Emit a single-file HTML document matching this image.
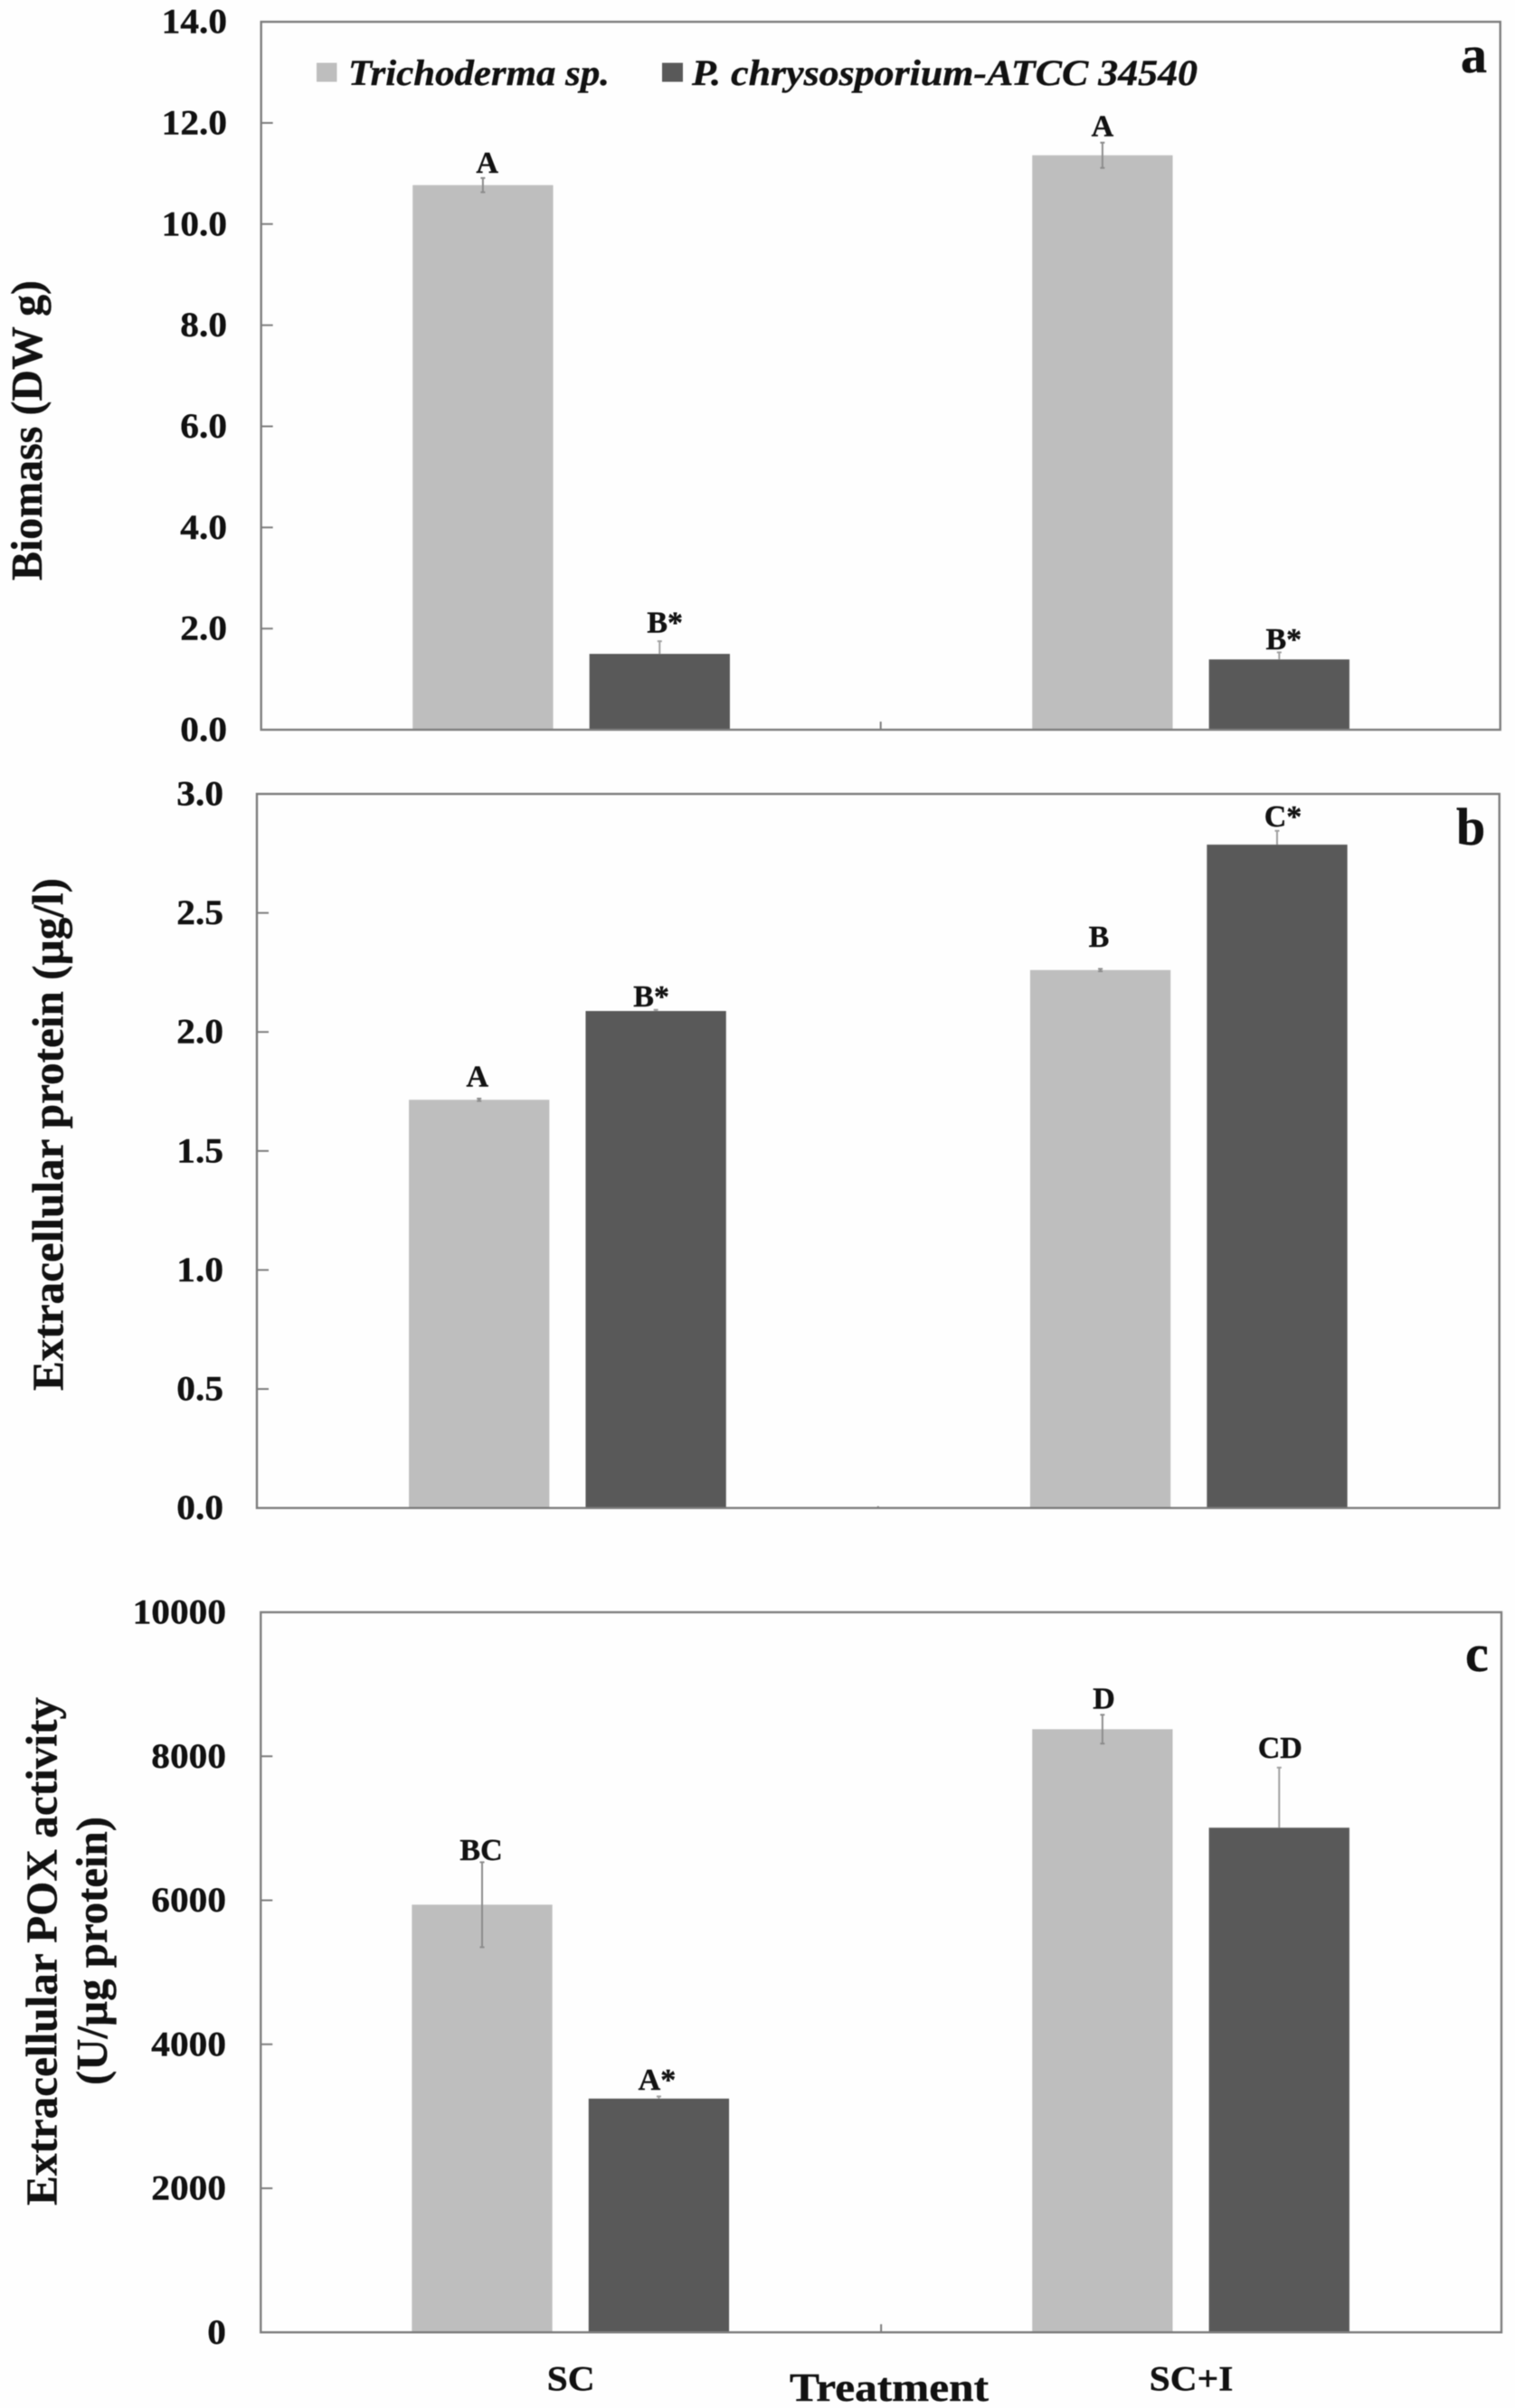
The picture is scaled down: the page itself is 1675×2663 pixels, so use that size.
<!DOCTYPE html>
<html lang="en">
<head>
<meta charset="utf-8">
<title>Biomass, extracellular protein and POX activity</title>
<style>
html,body{margin:0;padding:0;background:#fefefe;}
#figure{display:block;width:1675px;height:2663px;filter:blur(0.6px);}
text{font-family:"Liberation Serif",serif;font-weight:bold;fill:#111;stroke:#111;stroke-width:0.4px;}
</style>
</head>
<body>
<svg id="figure" xmlns="http://www.w3.org/2000/svg" width="1675" height="2663" viewBox="0 0 1675 2663">
  <rect x="0" y="0" width="1675" height="2663" fill="#fefefe"/>
  <g id="plots"></g>

  <g>
    <rect x="350" y="69.5" width="22.5" height="21" fill="#bebebe"/>
    <text x="385" y="94" font-size="40" font-style="italic" textLength="289" lengthAdjust="spacingAndGlyphs">Trichoderma sp.</text>
    <rect x="732" y="69.5" width="23" height="21" fill="#595959"/>
    <text x="765" y="94" font-size="40" font-style="italic" textLength="559" lengthAdjust="spacingAndGlyphs">P. chrysosporium-ATCC 34540</text>
  </g>

  <text transform="translate(46,642) rotate(-90)" font-size="49" textLength="332" lengthAdjust="spacingAndGlyphs">Biomass (DW g)</text>
  <text transform="translate(69.5,1538) rotate(-90)" font-size="49" textLength="567" lengthAdjust="spacingAndGlyphs">Extracellular protein (µg/l)</text>
  <text transform="translate(62.5,2439) rotate(-90)" font-size="49" textLength="562" lengthAdjust="spacingAndGlyphs">Extracellular POX activity</text>
  <text transform="translate(118,2306) rotate(-90)" font-size="49" textLength="297" lengthAdjust="spacingAndGlyphs">(U/µg protein)</text>

  <text x="1615" y="80" font-size="58">a</text>
  <text x="1610" y="934" font-size="58">b</text>
  <text x="1620" y="1848" font-size="58">c</text>

  <text x="873" y="2655" font-size="44" textLength="220" lengthAdjust="spacingAndGlyphs">Treatment</text>
</svg>

<script>
// Shared categories
const categories = ['SC', 'SC+I'];

// Panel a: biomass
const biomassTicks = ['0.0', '2.0', '4.0', '6.0', '8.0', '10.0', '12.0', '14.0'];
const biomassTrichoderma = [10.77, 11.36];
const biomassChrysosporium = [1.50, 1.39];
const biomassTrichodermaErr = [0.14, 0.25];
const biomassChrysosporiumErr = [0.25, 0.14];
const biomassTrichodermaSig = ['A', 'A'];
const biomassChrysosporiumSig = ['B*', 'B*'];

// Panel b: extracellular protein
const proteinTicks = ['0.0', '0.5', '1.0', '1.5', '2.0', '2.5', '3.0'];
const proteinTrichoderma = [1.715, 2.26];
const proteinChrysosporium = [2.088, 2.787];
const proteinTrichodermaErr = [0.005, 0.005];
const proteinChrysosporiumErr = [0.005, 0.058];
const proteinTrichodermaSig = ['A', 'B'];
const proteinChrysosporiumSig = ['B*', 'C*'];

// Panel c: extracellular POX activity
const poxTicks = ['0', '2000', '4000', '6000', '8000', '10000'];
const poxTrichoderma = [5939, 8376];
const poxChrysosporium = [3246, 7008];
const poxTrichodermaErr = [590, 200];
const poxChrysosporiumErr = [30, 835];
const poxTrichodermaSig = ['BC', 'D'];
const poxChrysosporiumSig = ['A*', 'CD'];

const SVG_NS = 'http://www.w3.org/2000/svg';
const plots = document.getElementById('plots');
const LIGHT = '#bebebe';
const DARK = '#595959';
const AXIS = '#7d7d7d';
const ERR = '#8c8c8c';
const ERR_ON_WHITE = '#a0a0a0';

function make(tag, attrs, parent) {
  const el = document.createElementNS(SVG_NS, tag);
  for (const k in attrs) el.setAttribute(k, attrs[k]);
  parent.appendChild(el);
  return el;
}

function drawPanel(p) {
  const g = make('g', {}, plots);
  
  

  const yMax = parseFloat(p.ticks[p.ticks.length - 1]);
  const y = function (v) { return p.bottom - (v / yMax) * (p.bottom - p.top); };
  const band = (p.right - p.left) / categories.length;
  const xCenter = function (i) { return p.left + band * (i + 0.5) + p.shift; };
  const barW = 155.3;
  const barOffset = 97.7;

  const series = [
    { key: 'trichoderma', values: p.s1, errs: p.e1, sig: p.l1, fill: LIGHT, dir: -1, nudges: p.n1, lower: true, color: ERR },
    { key: 'chrysosporium', values: p.s2, errs: p.e2, sig: p.l2, fill: DARK, dir: 1, nudges: p.n2, lower: false, color: ERR_ON_WHITE }
  ];
  series.forEach(function (s) {
    s.values.forEach(function (v, i) {
      const cx = xCenter(i) + s.dir * barOffset;
      const bar = make('rect', { x: cx - barW / 2, y: y(v), width: barW, height: p.bottom - y(v), fill: s.fill }, g);
      
      

      // the lower half of an error bar is hidden by the dark bars
      const lowEnd = s.lower ? y(v - s.errs[i]) : y(v);
      const errLine = make('line', { x1: cx, x2: cx, y1: y(v + s.errs[i]), y2: lowEnd, stroke: s.color, 'stroke-width': 2 }, g);
      
      

      const capTop = make('line', { x1: cx - 2.5, x2: cx + 2.5, y1: y(v + s.errs[i]), y2: y(v + s.errs[i]), stroke: s.color, 'stroke-width': 2 }, g);
      
      

      if (s.lower) {
        const capBottom = make('line', { x1: cx - 2.5, x2: cx + 2.5, y1: lowEnd, y2: lowEnd, stroke: s.color, 'stroke-width': 2 }, g);
        
        
      }

      const nudge = s.nudges[i];
      const sig = make('text', { x: cx + nudge[0], y: y(v + s.errs[i]) - nudge[1], 'font-size': 34, 'text-anchor': 'middle' }, g);
      sig.textContent = s.sig[i];
      
      
    });
  });

  // frame
  const frame = make('rect', { x: p.left, y: p.top, width: p.right - p.left, height: p.bottom - p.top, fill: 'none', stroke: AXIS, 'stroke-width': 2.4 }, g);
  
  

  // y ticks and labels
  p.ticks.forEach(function (label) {
    const v = parseFloat(label);
    if (v > 0 && v < yMax) {
      const tick = make('line', { x1: p.left, x2: p.left + 13, y1: y(v), y2: y(v), stroke: AXIS, 'stroke-width': 2 }, g);
      
      
    }
    const t = make('text', { x: p.labelX, y: y(v) + 12.5, 'font-size': 39, 'text-anchor': 'end' }, g);
    t.textContent = label;
    
    
    t.setAttribute('lengthAdjust', 'spacingAndGlyphs');
    t.setAttribute('textLength', (t.getComputedTextLength() * 1.06).toFixed(1));
  });

  // centre x tick between the two groups
  const midTick = make('line', { x1: p.left + band, x2: p.left + band, y1: p.bottom, y2: p.bottom - p.midTick, stroke: AXIS, 'stroke-width': 2 }, g);
  
  

  // category labels only on the bottom panel
  if (p.showCategories) {
    categories.forEach(function (c, i) {
      const t = make('text', { x: xCenter(i) + 0.5, y: p.bottom + 64, 'font-size': 39, 'text-anchor': 'middle' }, g);
      t.textContent = c;
      
      
      t.setAttribute('lengthAdjust', 'spacingAndGlyphs');
      t.setAttribute('textLength', (t.getComputedTextLength() * 1.06).toFixed(1));
    });
  }
}

drawPanel({
  id: 'a', left: 288.7, right: 1658.7, top: 24.1, bottom: 807, shift: 0.4, labelX: 251, midTick: 9,
  ticks: biomassTicks, s1: biomassTrichoderma, s2: biomassChrysosporium,
  e1: biomassTrichodermaErr, e2: biomassChrysosporiumErr,
  l1: biomassTrichodermaSig, l2: biomassChrysosporiumSig,
  n1: [[4.8, 5.7], [0, 7.5]], n2: [[5.9, 9.8], [5, 3.4]]
});

drawPanel({
  id: 'b', left: 284, right: 1657.7, top: 878, bottom: 1667.7, shift: 0, labelX: 247, midTick: 2,
  ticks: proteinTicks, s1: proteinTrichoderma, s2: proteinChrysosporium,
  e1: proteinTrichodermaErr, e2: proteinChrysosporiumErr,
  l1: proteinTrichodermaSig, l2: proteinChrysosporiumSig,
  n1: [[-2, 13.2], [-1.6, 24.7]], n2: [[-5, 4], [6.5, 4.6]]
});

drawPanel({
  id: 'c', left: 288.3, right: 1660, top: 1783, bottom: 2579.3, shift: -0.5, labelX: 250, midTick: 9,
  ticks: poxTicks, s1: poxTrichoderma, s2: poxChrysosporium,
  e1: poxTrichodermaErr, e2: poxChrysosporiumErr,
  l1: poxTrichodermaSig, l2: poxChrysosporiumSig,
  n1: [[-1, 2.3], [1.6, 7]], n2: [[-2, 7.6], [1, 11]],
  showCategories: true
});
</script>
</body>
</html>
